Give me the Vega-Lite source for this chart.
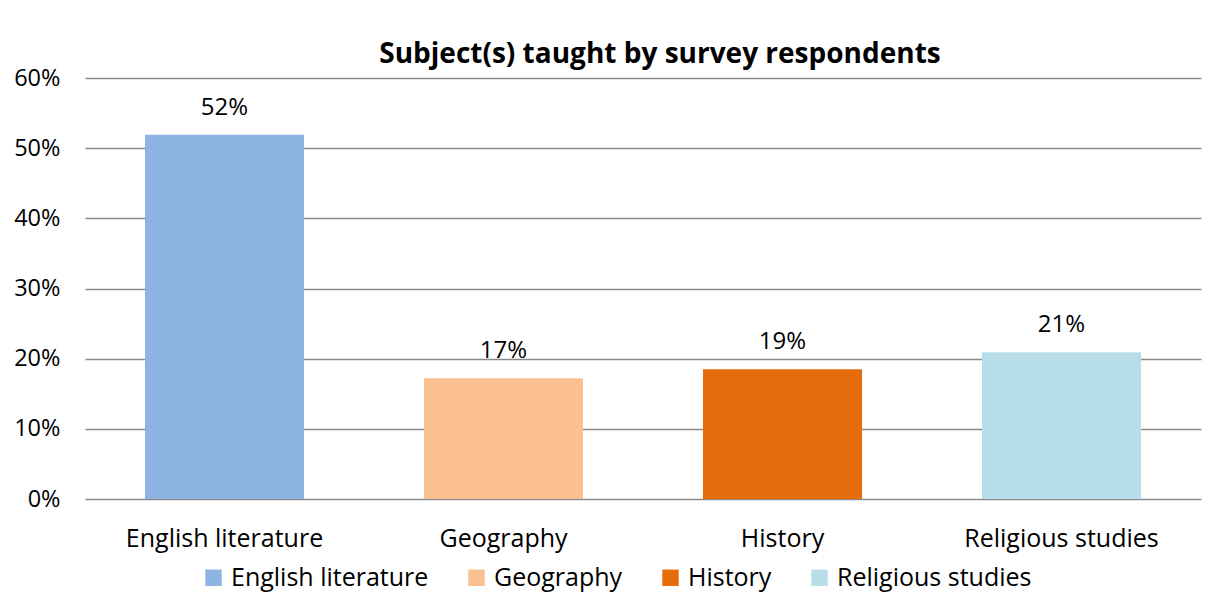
{
  "$schema": "https://vega.github.io/schema/vega-lite/v6.json",
  "width": 1116,
  "height": 421,
  "autosize": {"type": "none"},
  "padding": {"left": 85, "top": 78, "right": 14, "bottom": 111},
  "background": "white",
  "config": {
    "font": "Open Sans",
    "view": {"stroke": null}
  },
  "title": {
    "text": "Subject(s) taught by survey respondents",
    "font": "Open Sans",
    "fontSize": 28,
    "fontWeight": "bold",
    "color": "#000000",
    "anchor": "middle",
    "dx": 17,
    "offset": -3
  },
  "data": {
    "values": [
      {"subject": "English literature", "share": 0.519, "label": "52%"},
      {"subject": "Geography", "share": 0.172, "label": "17%"},
      {"subject": "History", "share": 0.185, "label": "19%"},
      {"subject": "Religious studies", "share": 0.209, "label": "21%"}
    ]
  },
  "encoding": {
    "x": {
      "field": "subject",
      "type": "nominal",
      "sort": null,
      "scale": {"paddingInner": 0.43, "paddingOuter": 0.215},
      "axis": {
        "title": null,
        "labelAngle": 0,
        "labelFontSize": 25,
        "labelColor": "#000000",
        "labelPadding": 27,
        "labelLimit": 400,
        "ticks": false,
        "domain": false
      }
    },
    "y": {
      "field": "share",
      "type": "quantitative",
      "scale": {"domain": [0, 0.6], "nice": false},
      "axis": {
        "title": null,
        "format": ".0%",
        "values": [0, 0.1, 0.2, 0.3, 0.4, 0.5, 0.6],
        "labelFontSize": 23.5,
        "labelColor": "#000000",
        "labelPadding": 25,
        "ticks": false,
        "domain": false,
        "grid": true,
        "gridColor": "#8a8a8a",
        "gridWidth": 1.6
      }
    }
  },
  "layer": [
    {
      "mark": {"type": "bar"},
      "encoding": {
        "color": {
          "field": "subject",
          "type": "nominal",
          "sort": null,
          "scale": {
            "domain": ["English literature", "Geography", "History", "Religious studies"],
            "range": ["#8EB4E3", "#FAC090", "#E46C0A", "#B7DEE8"]
          },
          "legend": {
            "title": null,
            "orient": "none",
            "direction": "horizontal",
            "legendX": 116,
            "legendY": 487,
            "padding": 0,
            "symbolType": "square",
            "symbolSize": 270,
            "symbolStrokeWidth": 0,
            "labelFontSize": 25,
            "labelColor": "#000000",
            "labelOffset": 5,
            "columnPadding": 35,
            "labelLimit": 400
          }
        }
      }
    },
    {
      "mark": {"type": "text", "dy": -27, "fontSize": 24, "color": "#000000", "baseline": "middle"},
      "encoding": {"text": {"field": "label"}}
    }
  ]
}
